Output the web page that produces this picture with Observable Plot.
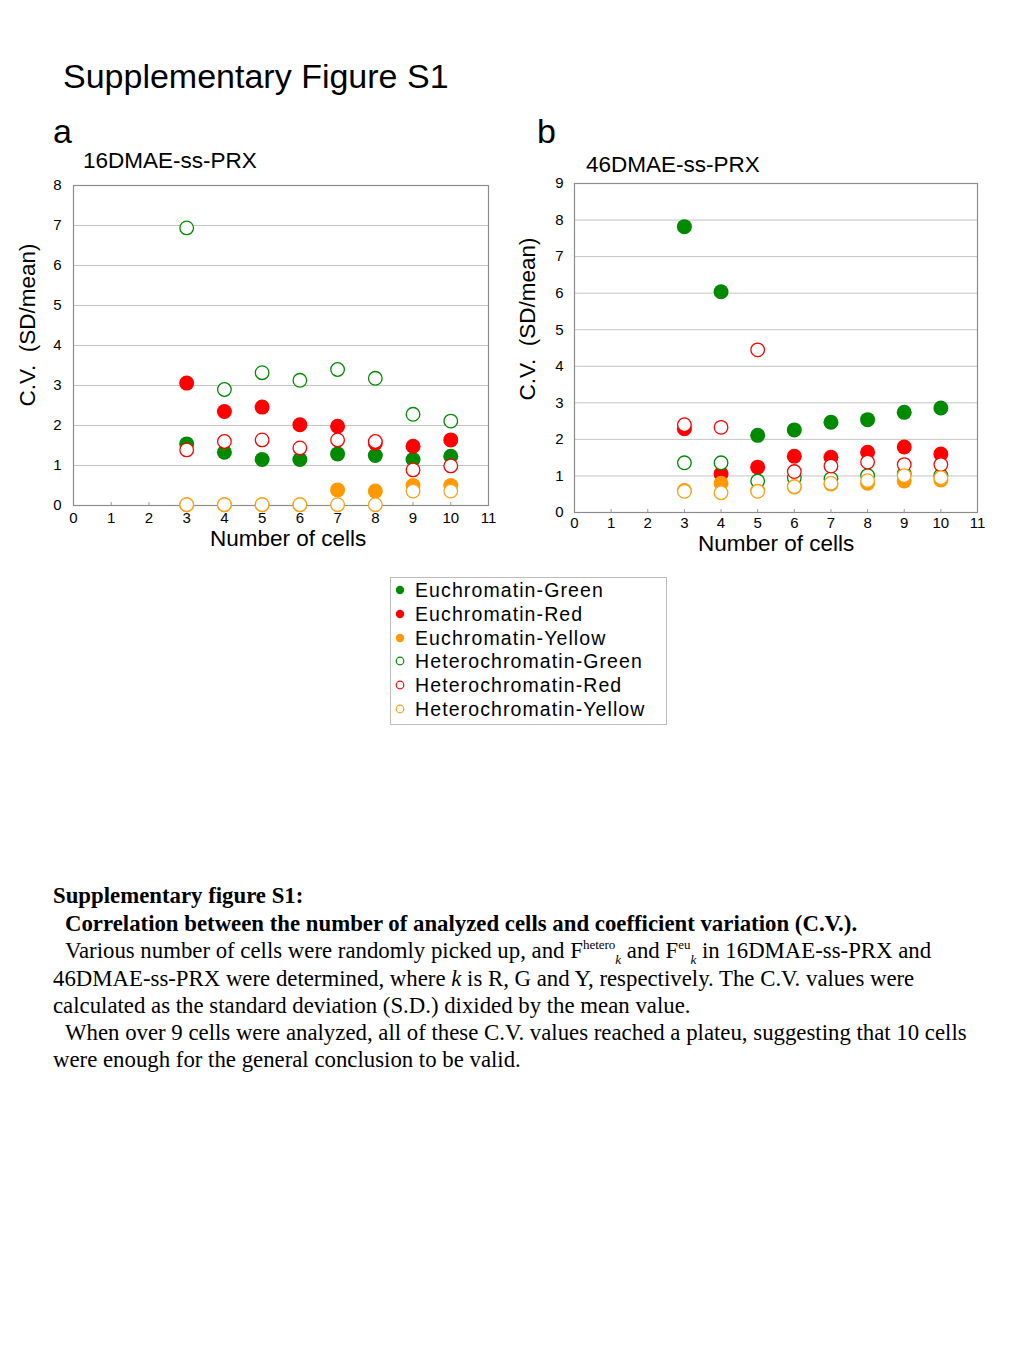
<!DOCTYPE html>
<html>
<head>
<meta charset="utf-8">
<script src="https://cdn.jsdelivr.net/npm/d3@7"></script>
<script src="https://cdn.jsdelivr.net/npm/@observablehq/plot@0.6"></script>
<style>
  html, body { margin: 0; padding: 0; background: #fff; }
  body { width: 1024px; height: 1365px; position: relative; overflow: hidden; font-family: "Liberation Sans", Arial, sans-serif; color: #000; }
  .abs { position: absolute; white-space: pre; line-height: 1; }
  .cap { position: absolute; left: 53px; white-space: pre; font-family: "Liberation Serif", "Times New Roman", serif; font-size: 22.8px; line-height: 1; }
  .legend { position: absolute; left: 390px; top: 577px; width: 277px; height: 148px; border: 1px solid #bdbdbd; box-sizing: border-box; }
  .legrow { position: absolute; left: 0; width: 270px; height: 20px; white-space: nowrap; font-family: "Liberation Sans", Arial, sans-serif; font-size: 19.5px; letter-spacing: 1.1px; line-height: 20px; }
  sup, sub { font-size: 13px; line-height: 0; }
</style>
</head>
<body>
<script>
// ---------- data ----------
const cells = [3, 4, 5, 6, 7, 8, 9, 10];
const seriesNames = ["Euchromatin-Green", "Euchromatin-Red", "Euchromatin-Yellow",
                     "Heterochromatin-Green", "Heterochromatin-Red", "Heterochromatin-Yellow"];
const seriesColors = ["#008a00", "#ff0000", "#ff9900", "#008a00", "#ff0000", "#f5a31a"];
const seriesFilled = [true, true, true, false, false, false];
const xTicks = [0, 1, 2, 3, 4, 5, 6, 7, 8, 9, 10, 11];

// Panel a: 16DMAE-ss-PRX
const a_EuGreen  = [1.54, 1.33, 1.15, 1.15, 1.29, 1.25, 1.15, 1.23];
const a_EuRed    = [3.06, 2.35, 2.46, 2.02, 1.98, 1.56, 1.48, 1.64];
const a_EuYellow = [0.02, 0.02, 0.02, 0.02, 0.39, 0.36, 0.50, 0.50];
const a_HetGreen = [6.94, 2.90, 3.32, 3.13, 3.40, 3.18, 2.28, 2.11];
const a_HetRed   = [1.39, 1.60, 1.64, 1.44, 1.64, 1.60, 0.89, 0.99];
const a_HetYellow= [0.02, 0.02, 0.02, 0.02, 0.02, 0.02, 0.36, 0.36];
const a_yTicks = [0, 1, 2, 3, 4, 5, 6, 7, 8];

// Panel b: 46DMAE-ss-PRX
const b_EuGreen  = [7.82, 6.04, 2.11, 2.26, 2.47, 2.54, 2.74, 2.86];
const b_EuRed    = [2.29, 1.06, 1.24, 1.54, 1.51, 1.65, 1.79, 1.60];
const b_EuYellow = [0.60, 0.80, 0.60, 0.70, 0.78, 0.80, 0.86, 0.89];
const b_HetGreen = [1.36, 1.36, 0.86, 0.95, 0.92, 1.01, 1.06, 1.01];
const b_HetRed   = [2.40, 2.33, 4.45, 1.12, 1.27, 1.38, 1.31, 1.31];
const b_HetYellow= [0.58, 0.54, 0.58, 0.71, 0.80, 0.87, 1.01, 0.95];
const b_yTicks = [0, 1, 2, 3, 4, 5, 6, 7, 8, 9];

function rows(seriesList) {
  const out = [];
  seriesList.forEach((vals, s) => {
    vals.forEach((v, i) => out.push({series: seriesNames[s], color: seriesColors[s], filled: seriesFilled[s], x: cells[i], y: v}));
  });
  return out;
}
const aRows = rows([a_EuGreen, a_EuRed, a_EuYellow, a_HetGreen, a_HetRed, a_HetYellow]);
const bRows = rows([b_EuGreen, b_EuRed, b_EuYellow, b_HetGreen, b_HetRed, b_HetYellow]);

function panel(data, yTicks, opts) {
  const ymax = yTicks[yTicks.length - 1];
  return Plot.plot({
    width: opts.width, height: opts.height,
    marginLeft: opts.ml, marginRight: opts.mr, marginTop: opts.mt, marginBottom: opts.mb,
    x: {domain: [0, 11], ticks: xTicks, label: null},
    y: {domain: [0, ymax], ticks: yTicks, label: null},
    color: {type: "identity"},
    style: {fontFamily: "'Liberation Sans', Arial, sans-serif", fontSize: "15px", background: "white", color: "#000"},
    marks: [
      Plot.ruleY(yTicks.filter(d => d > 0 && d < ymax), {stroke: "#c4c4c4", strokeWidth: 1}),
      Plot.ruleX(xTicks.filter(d => d > 0 && d < 11), {y1: 0, y2: ymax * 0.009, stroke: "#999"}),
      Plot.frame({stroke: "#8c8c8c", strokeWidth: 1.2}),
      Plot.axisY({ticks: yTicks, tickSize: 0, tickPadding: opts.yPad, label: null, fontSize: 15}),
      Plot.axisX({ticks: xTicks, tickSize: 0, tickPadding: opts.xPad, label: null, fontSize: 15}),
      Plot.dot(data.filter(d => d.filled), {x: "x", y: "y", r: 7.5, fill: "color", stroke: null}),
      Plot.dot(data.filter(d => !d.filled), {x: "x", y: "y", r: 6.8, fill: "white", stroke: "color", strokeWidth: 1.3})
    ]
  });
}

const svgA = panel(aRows, a_yTicks, {width: 500, height: 390, ml: 60, mr: 25, mt: 20, mb: 50, yPad: 12, xPad: 7});
svgA.style.position = "absolute"; svgA.style.left = "13px"; svgA.style.top = "165px";
document.body.appendChild(svgA);

const svgB = panel(bRows, b_yTicks, {width: 480, height: 400, ml: 54, mr: 23, mt: 18, mb: 53, yPad: 11, xPad: 5});
svgB.style.position = "absolute"; svgB.style.left = "520px"; svgB.style.top = "165px";
document.body.appendChild(svgB);

function text(str, left, top, size, extra) {
  const d = document.createElement("div");
  d.className = "abs";
  d.textContent = str;
  d.style.left = left + "px"; d.style.top = top + "px"; d.style.fontSize = size + "px";
  if (extra) Object.assign(d.style, extra);
  document.body.appendChild(d);
  return d;
}
text("Supplementary Figure S1", 63, 59, 34);
text("a", 53, 114, 34);
text("b", 537, 114, 34);
text("16DMAE-ss-PRX", 83, 150, 22.5);
text("46DMAE-ss-PRX", 586, 154, 22.5);
text("Number of cells", 210, 528, 22.5);
text("Number of cells", 698, 533, 22.5);
text("C.V.  (SD/mean)", 28, 325, 22.5, {transform: "translate(-50%,-50%) rotate(-90deg)"});
text("C.V.  (SD/mean)", 528, 319, 22.5, {transform: "translate(-50%,-50%) rotate(-90deg)"});

// legend
const leg = document.createElement("div");
leg.className = "legend";
document.body.appendChild(leg);
seriesNames.forEach((name, i) => {
  const row = document.createElement("div");
  row.className = "legrow";
  row.style.top = (2 + i * 23.8) + "px";
  const c = seriesFilled[i]
    ? `<circle cx="8" cy="10" r="4.2" fill="${seriesColors[i]}"/>`
    : `<circle cx="8" cy="10" r="3.8" fill="white" stroke="${seriesColors[i]}" stroke-width="1.2"/>`;
  row.innerHTML = `<svg width="16" height="20" style="position:absolute;left:1px;top:0">${c}</svg><span style="position:absolute;left:24px;top:0">${name}</span>`;
  leg.appendChild(row);
});

// caption
const capLines = [
  [0, 885, "<b>Supplementary figure S1:</b>"],
  [12, 913, "<b>Correlation between the number of analyzed cells and coefficient variation (C.V.).</b>"],
  [12, 940, "Various number of cells were randomly picked up, and F<sup>hetero</sup><sub><i>k</i></sub> and F<sup>eu</sup><sub><i>k</i></sub> in 16DMAE-ss-PRX and"],
  [0, 968, "46DMAE-ss-PRX were determined, where <i>k</i> is R, G and Y, respectively. The C.V. values were"],
  [0, 995, "calculated as the standard deviation (S.D.) dixided by the mean value."],
  [12, 1022, "When over 9 cells were analyzed, all of these C.V. values reached a plateu, suggesting that 10 cells"],
  [0, 1049, "were enough for the general conclusion to be valid."]
];
capLines.forEach(([dx, top, html]) => {
  const d = document.createElement("div");
  d.className = "cap";
  d.style.left = (53 + dx) + "px";
  d.style.top = top + "px";
  d.innerHTML = html;
  document.body.appendChild(d);
});
</script>
</body>
</html>
